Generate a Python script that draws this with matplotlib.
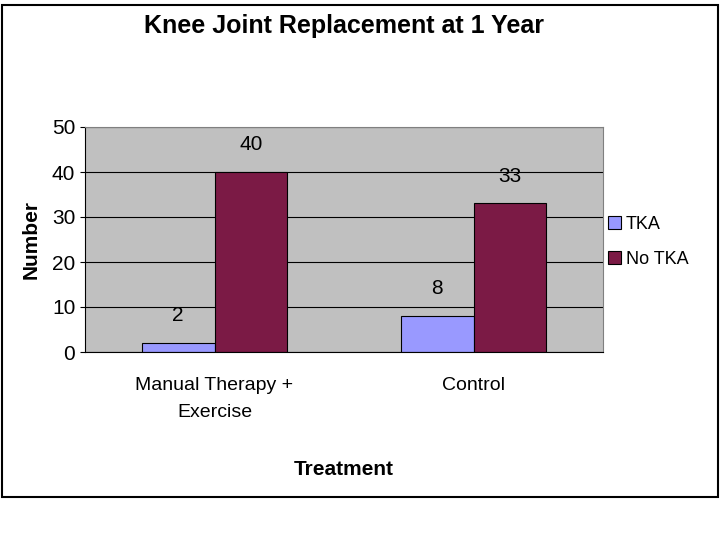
import matplotlib
matplotlib.use("Agg")
import matplotlib.pyplot as plt
import numpy as np

plt.rcParams["font.family"] = "Liberation Sans"

categories = ["Manual Therapy +\nExercise", "Control"]
tka = [2, 8]
no_tka = [40, 33]
series_names = ["TKA", "No TKA"]

fig = plt.figure(figsize=(7.2, 5.4), dpi=100)
fig.patches.append(plt.Rectangle((0.003, 0.08), 0.994, 0.91, transform=fig.transFigure,
                                 fill=False, edgecolor="black", lw=1.5))
ax = fig.add_axes([85/720, 1-352/540, 518/720, 225/540])
ax.set_facecolor("#c0c0c0")
x = np.array([0, 1])
w = 0.28
b1 = ax.bar(x - w/2, tka, w, color="#9999ff", edgecolor="black", lw=0.8, label=series_names[0])
b2 = ax.bar(x + w/2, no_tka, w, color="#7b1a45", edgecolor="black", lw=0.8, label=series_names[1])
for bars in (b1, b2):
    for r in bars:
        ax.text(r.get_x()+r.get_width()/2, r.get_height()+4, f"{int(r.get_height())}",
                ha="center", va="bottom", fontsize=15)
ax.set_xlim(-0.5, 1.5)
ax.set_ylim(0, 50)
ax.set_yticks(range(0, 51, 10))
ax.yaxis.grid(True, color="black", lw=0.8)
ax.set_axisbelow(True)
ax.set_xticks(x)
ax.set_xticklabels(categories, fontsize=14, linespacing=1.8)
ax.tick_params(axis="y", labelsize=15)
ax.tick_params(axis="x", length=0, pad=18)
for s in ax.spines.values():
    s.set_color("gray")
ax.spines["left"].set_color("black")
ax.spines["bottom"].set_color("black")
ax.set_ylabel("Number", fontsize=15, fontweight="bold", labelpad=8)
ax.set_xlabel("Treatment", fontsize=15, fontweight="bold", labelpad=28)
ax.set_title("Knee Joint Replacement at 1 Year", fontsize=18, fontweight="bold", pad=68)
fig.legend(loc="center left", bbox_to_anchor=(608/720, 1-242/540), frameon=False,
           fontsize=13, handlelength=0.7, handleheight=0.7, handletextpad=0.3,
           labelspacing=1.0, borderaxespad=0, borderpad=0)
fig.savefig("out.png")
